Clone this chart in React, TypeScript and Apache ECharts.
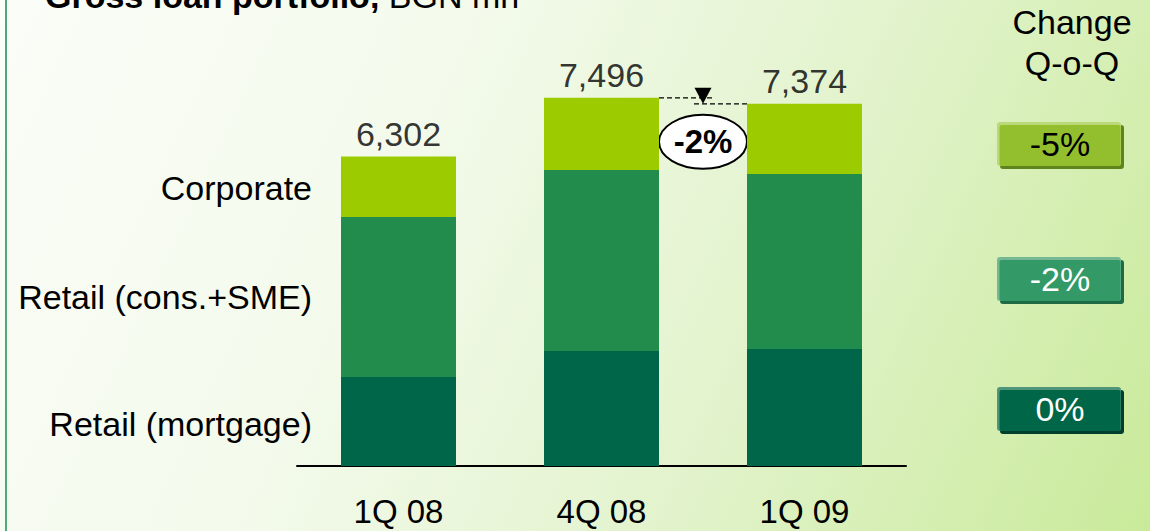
import React, { useEffect, useRef } from "react";
import * as echarts from "echarts";

const categories = ["1Q 08", "4Q 08", "1Q 09"];
const seriesNames = ["Retail (mortgage)", "Retail (cons.+SME)", "Corporate"];
const mortgage = [1813, 2342, 2383];
const consumerSme = [3258, 3687, 3564];
const corporate = [1231, 1467, 1427];
const totals = [6302, 7496, 7374];
const changeTitle = ["Change", "Q-o-Q"];
const changeLabels = ["-5%", "-2%", "0%"]; // Corporate, Retail (cons.+SME), Retail (mortgage)
const totalChangeLabel = "-2%";
const titleBold = "Gross loan portfolio,";
const titleNormal = " BGN mn";

const FONT = "'Liberation Sans', Arial, Helvetica, sans-serif";
const FS = 34;
const COLORS = ["#00664a", "#228c4c", "#9ccb00"];

export default function App() {
  const ref = useRef<HTMLDivElement>(null);

  useEffect(() => {
    if (!ref.current) return;
    const chart = echarts.init(ref.current, undefined, { renderer: "svg" });

    const seriesData = [mortgage, consumerSme, corporate];
    const barSeries = seriesData.map((d, i) => ({
      type: "bar",
      name: seriesNames[i],
      stack: "total",
      barWidth: 115,
      itemStyle: { color: COLORS[i] },
      data: d.map((v, j) =>
        j === 0
          ? {
              value: v,
              label: {
                show: true,
                position: "left",
                distance: 29,
                offset: [0, i === 0 ? 3 : i === 2 ? 1 : 0],
                formatter: seriesNames[i],
                fontSize: FS,
                fontFamily: FONT,
                color: "#000",
              },
            }
          : v
      ),
    }));

    const option: any = {
      animation: false,
      grid: { left: 297, right: 244, top: 24, bottom: 65 },
      xAxis: {
        type: "category",
        data: categories,
        axisLine: { show: true, lineStyle: { color: "#000", width: 2 } },
        axisTick: { show: false },
        axisLabel: {
          fontSize: 33,
          fontFamily: FONT,
          color: "#000",
          lineHeight: 28,
          margin: 31,
        },
      },
      yAxis: {
        type: "value",
        min: 0,
        max: 9000,
        show: false,
        splitLine: { show: false },
      },
      series: [
        ...barSeries,
        {
          type: "scatter",
          name: "Total",
          symbolSize: 0,
          data: totals,
          label: {
            show: true,
            position: "top",
            distance: 6,
            fontSize: FS,
            fontFamily: FONT,
            color: "#000",
            formatter: (p: any) => Number(p.value).toLocaleString("en-US"),
          },
          z: 5,
        },
      ],
    };
    chart.setOption(option);

    const halfBar = 57.5;
    const p1 = chart.convertToPixel({ seriesIndex: 0 }, [1, totals[1]]) as number[];
    const p2 = chart.convertToPixel({ seriesIndex: 0 }, [2, totals[2]]) as number[];
    const midX = (p1[0] + p2[0]) / 2;
    const leftEdge = p1[0] + halfBar;
    const rightEdge = p2[0] - halfBar;

    const boxStyles = [
      { main: "#93bf2f", light: "#bcd97a", dark: "#5e841c", text: "#000" },
      { main: "#339966", light: "#74b994", dark: "#1d6a45", text: "#fff" },
      { main: "#006648", light: "#4f957a", dark: "#003f2c", text: "#fff" },
    ];
    const boxCenters = [145, 280, 410];
    const boxes: any[] = [];
    boxCenters.forEach((cy, i) => {
      const s = boxStyles[i];
      boxes.push(
        { type: "rect", shape: { x: 1000, y: cy - 20, width: 124, height: 44, r: 3 }, style: { fill: s.dark } },
        { type: "rect", shape: { x: 997, y: cy - 23, width: 124, height: 44, r: 3 }, style: { fill: s.light } },
        { type: "rect", shape: { x: 999.5, y: cy - 20, width: 121, height: 41, r: 2 }, style: { fill: s.main } },
        {
          type: "text",
          x: 1060,
          y: cy - 1,
          style: {
            text: changeLabels[i],
            fill: s.text,
            font: `${FS}px ${FONT}`,
            align: "center",
            verticalAlign: "middle",
          },
        }
      );
    });

    chart.setOption({
      graphic: [
        { type: "rect", shape: { x: 5, y: 0, width: 2, height: 531 }, style: { fill: "#4fa877" } },
        {
          type: "text",
          x: 45,
          y: -4,
          style: {
            text: `{b|${titleBold}}{n|${titleNormal}}`,
            verticalAlign: "middle",
            rich: {
              b: { fontSize: FS, fontWeight: "bold", fontFamily: FONT, fill: "#000" },
              n: { fontSize: FS, fontFamily: FONT, fill: "#000" },
            },
          },
        },
        {
          type: "text",
          x: 1072,
          y: 22,
          style: { text: changeTitle[0], font: `${FS}px ${FONT}`, fill: "#000", align: "center", verticalAlign: "middle" },
        },
        {
          type: "text",
          x: 1072,
          y: 63,
          style: { text: changeTitle[1], font: `${FS}px ${FONT}`, fill: "#000", align: "center", verticalAlign: "middle" },
        },
        ...boxes,
        {
          type: "line",
          shape: { x1: leftEdge, y1: p1[1], x2: midX + 9, y2: p1[1] },
          style: { stroke: "#000", lineWidth: 1.4, lineDash: [5, 3] },
        },
        {
          type: "line",
          shape: { x1: midX - 9, y1: p2[1], x2: rightEdge, y2: p2[1] },
          style: { stroke: "#000", lineWidth: 1.4, lineDash: [5, 3] },
        },
        {
          type: "polygon",
          shape: { points: [[midX - 8.5, p1[1] - 10], [midX + 8.5, p1[1] - 10], [midX, p2[1]]] },
          style: { fill: "#000" },
        },
        {
          type: "ellipse",
          shape: { cx: midX, cy: p1[1] + 44, rx: 44, ry: 27 },
          style: { fill: "#fff", stroke: "#000", lineWidth: 2 },
        },
        {
          type: "text",
          x: midX,
          y: p1[1] + 44,
          style: {
            text: totalChangeLabel,
            font: `bold 33px ${FONT}`,
            fill: "#000",
            align: "center",
            verticalAlign: "middle",
          },
        },
      ],
    });

    return () => chart.dispose();
  }, []);

  return (
    <div
      ref={ref}
      style={{
        position: "fixed",
        left: 0,
        top: 0,
        width: 1150,
        height: 531,
        background:
          "linear-gradient(115deg, #fbfdf8 0%, #f3faeb 35%, #e2f3cc 65%, #c9ea9a 100%)",
      }}
    />
  );
}
